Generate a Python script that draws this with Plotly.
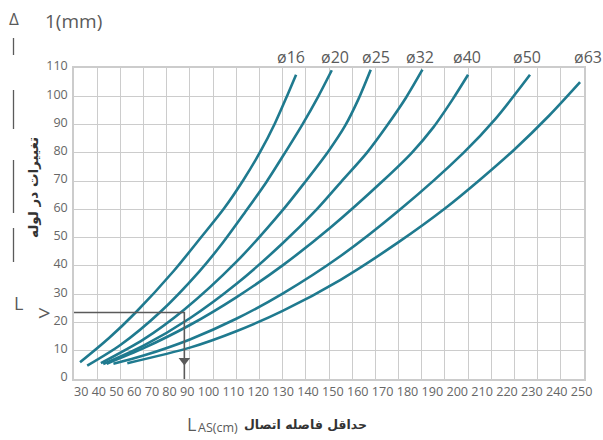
import plotly.graph_objects as go

# ---------------- data ----------------
x_ticks = [30, 40, 50, 60, 70, 80, 90, 100, 110, 120, 130, 140, 150, 160,
           170, 180, 190, 200, 210, 220, 230, 240, 250]
y_ticks = [0, 10, 20, 30, 40, 50, 60, 70, 80, 90, 100, 110]
diameters = ["ø16", "ø20", "ø25", "ø32", "ø40", "ø50", "ø63"]

d16_x = [32.6, 45, 56.7, 73, 85, 94.7, 103, 110.3, 116.6, 122.0, 125.8]
d16_y = [5.9, 14.4, 23.6, 38.2, 50.3, 60.3, 70.3, 80.3, 90.3, 100.3, 107.6]
d20_x = [35.7, 50, 67.1, 84, 94, 103.8, 113.1, 121, 128.5, 135.4, 141.2]
d20_y = [4.7, 12, 23.6, 38, 48, 59, 69.8, 80, 90, 100, 109.2]
d25_x = [41.6, 60, 77.5, 100, 120.3, 129.7, 139.7, 146.9, 152.7, 158]
d25_y = [5.6, 14, 24.5, 41.4, 60, 69.7, 80.5, 89.5, 99, 109.4]
d32_x = [42.6, 60, 80, 100, 120, 134.7, 145.5, 156.3, 164.9, 173.2, 180.3]
d32_y = [5.3, 11.8, 21.5, 33.6, 48, 60, 70, 80, 89.5, 99.5, 109.4]
d40_x = [44.1, 60, 80, 100, 120, 140.4, 163.4, 175.7, 185, 193.4, 200]
d40_y = [5.4, 10.9, 19.1, 28.9, 40.2, 53.4, 70.2, 80, 89, 99, 107.6]
d50_x = [47, 60, 80, 100, 120, 145, 170, 198, 212, 226.7]
d50_y = [5.4, 8.3, 14.0, 21.3, 30.2, 43.5, 59.5, 80, 92.2, 107.6]
d63_x = [53, 80, 100, 120, 145, 170, 190, 205, 220, 235, 248.3]
d63_y = [5.6, 11.1, 16.9, 24.1, 35.1, 48.4, 60.3, 70.4, 81.2, 93.2, 105]

curves_x = [d16_x, d20_x, d25_x, d32_x, d40_x, d50_x, d63_x]
curves_y = [d16_y, d20_y, d25_y, d32_y, d40_y, d50_y, d63_y]

example_x = 77.6     # read-off example (grid units)
example_y = 23.5
example_arrow_y = 6.5

# ---------------- styling ----------------
TEAL = "#1f7a8f"
GRID = "#cccccc"
GRAY = "#5a5a5a"
DARK = "#333333"
W, H = 603, 440
L, R, T, B = 74, 19, 68, 61
PW, PH = W - L - R, H - T - B

# caption centres (pixels) for the diameter labels
label_px = [291, 334.5, 376, 419.5, 467, 527, 588]


def px(x):
    return (x - L) / PW


def py(y):
    return (H - B - y) / PH


fig = go.Figure()

for cx, cy in zip(curves_x, curves_y):
    fig.add_trace(go.Scatter(x=cx, y=cy, mode="lines",
                             line=dict(color=TEAL, width=2.6, shape="spline", smoothing=0.8),
                             hoverinfo="skip", showlegend=False))

# example read-off lines
fig.add_trace(go.Scatter(x=[30, example_x, example_x], y=[example_y, example_y, 0],
                         mode="lines", line=dict(color=GRAY, width=1.6),
                         hoverinfo="skip", showlegend=False))
fig.add_trace(go.Scatter(x=[example_x], y=[example_arrow_y], mode="markers",
                         marker=dict(symbol="triangle-down", size=10, color=GRAY),
                         hoverinfo="skip", showlegend=False))

annotations = []
for name, lx in zip(diameters, label_px):
    annotations.append(dict(x=px(lx), xref="paper", y=py(56.5), yref="paper", text=name,
                            showarrow=False, xanchor="center", yanchor="middle",
                            font=dict(family="Open Sans", size=16, color=GRAY)))
# x tick labels (as in the original: one spaced row)
annotations.append(dict(x=px(72), xref="paper", y=py(391.5), yref="paper",
                        text=" ".join(str(v) for v in x_ticks), showarrow=False,
                        xanchor="left", yanchor="middle",
                        font=dict(family="Open Sans", size=12.6, color="#666666")))
# axis titles
annotations.append(dict(x=px(32.5), xref="paper", y=py(187.5), yref="paper",
                        text="<b>تغییرات در لوله</b>", textangle=-90, showarrow=False,
                        xanchor="center", yanchor="middle",
                        font=dict(family="DejaVu Sans", size=13.5, color=DARK)))
annotations.append(dict(x=px(305), xref="paper", y=py(424), yref="paper",
                        text="<b>حداقل فاصله اتصال</b>", showarrow=False,
                        xanchor="center", yanchor="middle",
                        font=dict(family="DejaVu Sans", size=12.5, color=DARK)))
annotations.append(dict(x=px(191), xref="paper", y=py(423.5), yref="paper",
                        text="L", showarrow=False, xanchor="center", yanchor="middle",
                        font=dict(family="Open Sans", size=18, color=GRAY)))
annotations.append(dict(x=px(217.5), xref="paper", y=py(427), yref="paper",
                        text="AS(cm)", showarrow=False, xanchor="center", yanchor="middle",
                        font=dict(family="Open Sans", size=12.5, color=GRAY)))
# top-left delta label fragments
annotations.append(dict(x=px(14), xref="paper", y=py(18), yref="paper",
                        text="Δ", showarrow=False, xanchor="center", yanchor="middle",
                        font=dict(family="Open Sans", size=17, color=GRAY)))
annotations.append(dict(x=px(73), xref="paper", y=py(20.5), yref="paper",
                        text="1(mm)", showarrow=False, xanchor="center", yanchor="middle",
                        font=dict(family="Open Sans", size=19, color=GRAY)))
annotations.append(dict(x=px(18), xref="paper", y=py(303), yref="paper",
                        text="L", showarrow=False, xanchor="center", yanchor="middle",
                        font=dict(family="Open Sans", size=18, color=GRAY)))
annotations.append(dict(x=px(44), xref="paper", y=py(312), yref="paper",
                        text="&gt;", showarrow=False, xanchor="center", yanchor="middle",
                        font=dict(family="Open Sans", size=22, color=GRAY)))

shapes = []
for y0, y1 in [(38, 55), (90, 129), (160, 213), (228, 262)]:
    shapes.append(dict(type="line", xref="paper", yref="paper",
                       x0=px(13.5), x1=px(13.5), y0=py(y0), y1=py(y1),
                       line=dict(color=GRAY, width=1.3)))

fig.update_layout(
    width=W, height=H,
    margin=dict(l=L, r=R, t=T, b=B, pad=0),
    paper_bgcolor="white", plot_bgcolor="white",
    showlegend=False,
    annotations=annotations, shapes=shapes,
    xaxis=dict(range=[30, 250], tick0=30, dtick=10, showgrid=True, gridcolor=GRID,
               gridwidth=1.3, showticklabels=False, zeroline=False, ticks="",
               showline=True, linecolor=GRID, linewidth=1.5, mirror=True),
    yaxis=dict(range=[0, 110], tickvals=y_ticks, showgrid=True, gridcolor=GRID,
               gridwidth=1.3, zeroline=False, ticks="", ticklabelstandoff=2,
               ticklabelshift=-2,
               tickfont=dict(family="Open Sans", size=12.5, color="#666666"),
               showline=True, linecolor=GRID, linewidth=1.5, mirror=True),
)

fig.write_html("out.html", config={"displayModeBar": False},
               post_script="document.body.style.margin='0';document.body.style.padding='0';")
